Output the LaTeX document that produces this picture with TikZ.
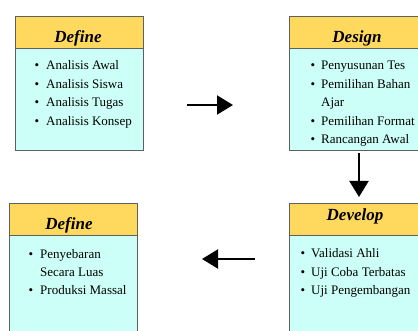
\documentclass[tikz,border=0pt]{standalone}
\usepackage{fontspec}
\setmainfont{Liberation Serif}
\usetikzlibrary{arrows.meta}
\definecolor{hdr}{RGB}{255,217,94}
\definecolor{bdy}{RGB}{204,255,247}
\definecolor{brd}{RGB}{95,95,95}
\tikzset{
  bdybox/.style={draw=brd, line width=1.2pt, fill=bdy, inner sep=0, anchor=north west},
  hdrbox/.style={draw=brd, line width=1.2pt, fill=hdr, inner sep=0, anchor=north west},
  ttl/.style={font=\fontsize{17}{17}\selectfont\bfseries\itshape, anchor=base, inner sep=0},
  itm/.style={font=\fontsize{13}{13}\selectfont, anchor=base west, inner sep=0},
  bul/.style={font=\fontsize{13}{13}\selectfont, anchor=base, inner sep=0},
  flow/.style={line width=2pt, -{Triangle[length=16pt,width=19pt]}}
}
\begin{document}
\begin{tikzpicture}[x=1pt,y=-1pt]
\useasboundingbox (0,0) rectangle (418,331);
\clip (0,0) rectangle (418,331);
% box 1
\node[bdybox, minimum width=128pt, minimum height=134pt] (b1) at (15,16) {};
\node[hdrbox, minimum width=128pt, minimum height=32pt] (h1) at (15,16) {};
\node[ttl] (t1) at (78,43) {Define};
% box 2
\node[bdybox, minimum width=136pt, minimum height=134pt] (b2) at (289,16) {};
\node[hdrbox, minimum width=136pt, minimum height=32pt] (h2) at (289,16) {};
\node[ttl] (t2) at (357,43) {Design};
% box 3
\node[bdybox, minimum width=128pt, minimum height=150pt] (b3) at (9,203) {};
\node[hdrbox, minimum width=128pt, minimum height=32pt] (h3) at (9,203) {};
\node[ttl] (t3) at (69,230) {Define};
% box 4
\node[bdybox, minimum width=136pt, minimum height=150pt] (b4) at (289,203) {};
\node[hdrbox, minimum width=136pt, minimum height=32pt] (h4) at (289,203) {};
\node[ttl] (t4) at (355,221) {Develop};
% items box 1
\foreach \y/\t [count=\i] in {70/Analisis Awal, 88.5/Analisis Siswa, 107/Analisis Tugas, 125.5/Analisis Konsep}{
  \node[bul] (p1b\i) at (37,\y) {\textbullet};
  \node[itm] (p1t\i) at (46,\y) {\t};
}
% items box 2
\foreach \y/\t [count=\i] in {70/Penyusunan Tes, 88.5/Pemilihan Bahan, 125.5/Pemilihan Format, 143.5/Rancangan Awal}{
  \node[bul] (p2b\i) at (313,\y) {\textbullet};
  \node[itm] (p2t\i) at (321,\y) {\t};
}
\node[itm] (p2x) at (321,107) {Ajar};
% items box 3
\node[bul] (p3b1) at (31,259) {\textbullet};
\node[itm] (p3t1) at (40,259) {Penyebaran};
\node[itm] (p3x) at (40,277) {Secara Luas};
\node[bul] (p3b2) at (31,295) {\textbullet};
\node[itm] (p3t2) at (40,295) {Produksi Massal};
% items box 4
\foreach \y/\t [count=\i] in {258/Validasi Ahli, 276.5/Uji Coba Terbatas, 295/Uji Pengembangan}{
  \node[bul] (p4b\i) at (303,\y) {\textbullet};
  \node[itm] (p4t\i) at (311,\y) {\t};
}
% arrows
\coordinate (a1s) at (187,105);
\coordinate (a1e) at (233,105);
\coordinate (a2s) at (359,153);
\coordinate (a2e) at (359,197);
\coordinate (a3s) at (255,259);
\coordinate (a3e) at (202,259);
\draw[flow] (a1s) -- (a1e);
\draw[flow] (a2s) -- (a2e);
\draw[flow] (a3s) -- (a3e);
\end{tikzpicture}
\end{document}
